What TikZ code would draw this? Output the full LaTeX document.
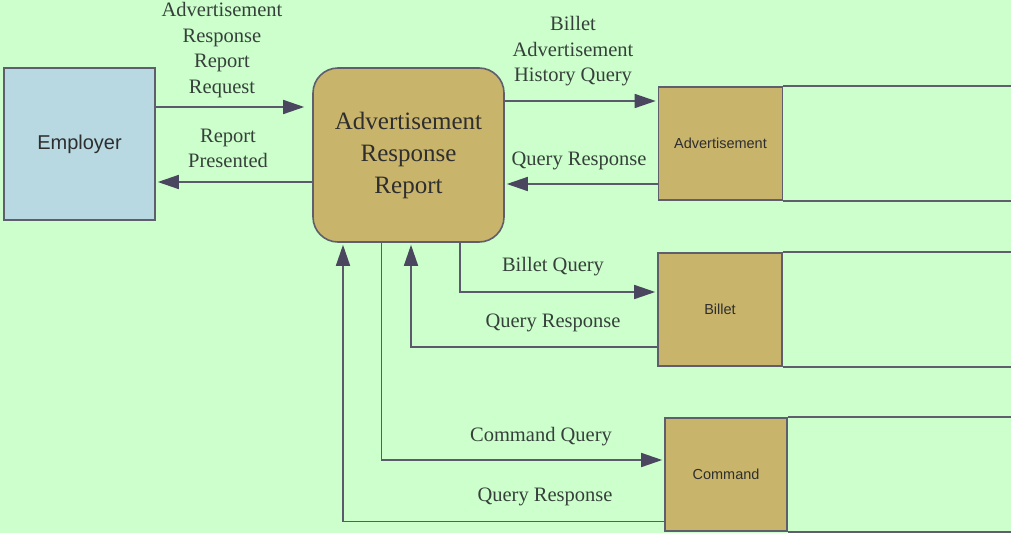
\documentclass[tikz,border=0pt]{standalone}
\usepackage{fontspec}
\setmainfont{Liberation Serif}
\newfontfamily\arialf{Liberation Sans}
\usetikzlibrary{arrows.meta}
\definecolor{bgc}{HTML}{CCFFCC}
\definecolor{empc}{HTML}{B8D8E2}
\definecolor{tanc}{HTML}{C9B46B}
\definecolor{edgec}{HTML}{5E5E6C}
\definecolor{flowc}{HTML}{5A5A6C}
\definecolor{tipc}{HTML}{4B4660}
\definecolor{txtc}{HTML}{2E2E2E}
\definecolor{lblc}{HTML}{36403A}
\begin{document}
\begin{tikzpicture}[x=1pt,y=-1pt,
  ent/.style={draw=edgec,line width=1.6pt,fill=empc,minimum width=151pt,minimum height=152pt,inner sep=0pt,
    font=\arialf\fontsize{20}{24}\selectfont,text=txtc},
  proc/.style={draw=edgec,line width=1.6pt,fill=tanc,rounded corners=25pt,minimum width=191pt,minimum height=174pt,inner sep=0pt,
    align=center,font=\fontsize{25}{32}\selectfont,text=txtc},
  store/.style={draw=edgec,line width=1.6pt,fill=tanc,minimum height=113pt,inner sep=0pt,
    font=\arialf\fontsize{14.5}{17}\selectfont,text=txtc},
  openline/.style={draw=edgec,line width=1.6pt},
  flow/.style={draw=flowc,line width=1.6pt,-{Triangle[length=21pt,width=14pt,fill=tipc,color=tipc]},shorten >=2pt},
  lbl/.style={align=center,font=\fontsize{20.5}{25.5}\selectfont,text=lblc,inner sep=0pt}
]
\fill[bgc] (0,0) rectangle (1011,533);
\useasboundingbox (0,0) rectangle (1011,533);

\node[ent] (employer) at (79.5,144) {Employer};
\node[proc] (process) at (408.5,155) {Advertisement\\Response\\Report};
\node[store,minimum width=124pt] (adv) at (720.5,143.5) {Advertisement};
\node[store,minimum width=124pt] (billet) at (720,309.5) {Billet};
\node[store,minimum width=122pt] (command) at (726,474.5) {Command};

\draw[openline] (adv.north east) -- (adv.north east -| 1012,0);
\draw[openline] (adv.south east) -- (adv.south east -| 1012,0);
\draw[openline] (billet.north east) -- (billet.north east -| 1012,0);
\draw[openline] (billet.south east) -- (billet.south east -| 1012,0);
\draw[openline] (command.north east) -- (command.north east -| 1012,0);
\draw[openline] (command.south east) -- (command.south east -| 1012,0);

\draw[flow,shorten >=8pt] (employer.east |- 0,107) -- (process.west |- 0,107);
\draw[flow] (process.west |- 0,182) -- (employer.east |- 0,182);
\draw[flow] (process.east |- 0,101) -- (adv.west |- 0,101);
\draw[flow] (adv.west |- 0,184) -- (process.east |- 0,184);
\draw[flow] (process.south -| 460,0) |- (billet.west |- 0,292);
\draw[flow] (billet.west |- 0,347) -| (process.south -| 411,0);
\draw[flow] (process.south -| 381.5,0) |- (command.west |- 0,460);
\draw[flow] (command.west |- 0,521.5) -| (process.south -| 343,0);

\node[lbl] (l1) at (222,50) {Advertisement\\Response\\Report\\Request};
\node[lbl] (l2) at (228,148.5) {Report\\Presented};
\node[lbl] (l3) at (573,51.5) {Billet\\Advertisement\\History Query};
\node[lbl] (l4) at (579,161) {Query Response};
\node[lbl] (l5) at (553,266.5) {Billet Query};
\node[lbl] (l6) at (553,322.5) {Query Response};
\node[lbl] (l7) at (541,436.5) {Command Query};
\node[lbl] (l8) at (545,496.5) {Query Response};
\end{tikzpicture}
\end{document}
